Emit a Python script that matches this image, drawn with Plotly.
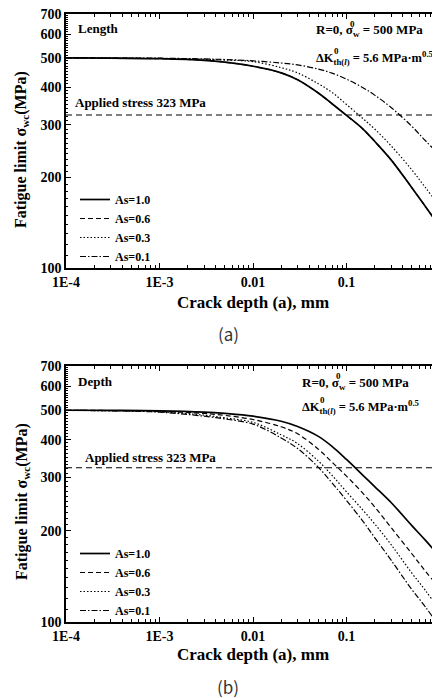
import plotly.graph_objects as go

# ---------------- data ----------------
crack_depth = [1e-4, 3e-4, 1e-3, 3e-3, 5e-3, 0.01, 0.02, 0.03, 0.05, 0.07,
               0.1, 0.15, 0.2, 0.3, 0.5, 0.7, 1.0]

# (a) Length
length_as10 = [500, 499.5, 497, 491, 484, 469, 446, 423, 382, 352, 322, 290, 264, 229, 185, 160, 137]
length_as06 = [500, 499.5, 497, 491, 484, 469, 446, 423, 382, 352, 322, 290, 264, 229, 185, 160, 137]
length_as03 = [500, 499.5, 498, 495, 492, 486, 464, 446, 410, 384, 350, 314, 290, 255, 212, 185, 160]
length_as01 = [500, 499.5, 499, 496, 494, 489, 481, 474, 459, 445, 425, 398, 376, 342, 296, 265, 237]

# (b) Depth
depth_as10 = [500, 499.5, 498, 493, 488, 478, 460, 442, 410, 380, 344, 305, 280, 248, 208, 186, 164]
depth_as06 = [500, 499, 496, 488, 481, 466, 441, 418, 372, 337, 303, 266, 240, 205, 168, 147, 129]
depth_as03 = [500, 498, 494, 482, 472, 456, 415, 388, 340, 305, 269, 234, 211, 180, 145, 127, 109]
depth_as01 = [500, 498, 493, 478, 468, 450, 405, 374, 324, 288, 252, 215, 190, 160, 128, 112, 96]

series_names = ["As=1.0", "As=0.6", "As=0.3", "As=0.1"]
applied_stress = 323

x_tickvals = [1e-4, 1e-3, 1e-2, 1e-1, 1]
x_ticktext = ["1E-4", "1E-3", "0.01", "0.1", "1"]
y_tickvals = [100, 200, 300, 400, 500, 600, 700]
y_ticktext = ["100", "200", "300", "400", "500", "600", "700"]

# ---------------- styling ----------------
# the page body has an 8px default margin, so the figure is sized to fill the rest
OFF = 8
W, H = 440 - OFF, 698 - OFF
SERIF = "Liberation Serif"
dashes = ["solid", "5px,3px", "1.5px,2px", "6px,2px,1.5px,2px"]
widths = [1.7, 1.2, 1.2, 1.2]

x_minor = [k * 10 ** e for e in range(-4, 0) for k in range(2, 10)]
y_minor = [v for v in range(110, 700, 10) if v % 100 != 0]


def px2paper(px):
    return (px - OFF) / W


def py2paper(py):
    return 1 - (py - OFF) / H


fig = go.Figure()

panels = [
    ("x", "y", "legend", [length_as10, length_as06, length_as03, length_as01]),
    ("x2", "y2", "legend2", [depth_as10, depth_as06, depth_as03, depth_as01]),
]
for xa, ya, lg, data in panels:
    for name, vals, d, w in zip(series_names, data, dashes, widths):
        fig.add_trace(go.Scatter(
            x=crack_depth, y=vals, mode="lines", name=name,
            line=dict(color="black", dash=d, width=w, shape="spline", smoothing=1.0),
            xaxis=xa, yaxis=ya, legend=lg, hoverinfo="skip"))
    fig.add_trace(go.Scatter(
        x=[crack_depth[0], crack_depth[-1]], y=[applied_stress, applied_stress],
        mode="lines", line=dict(color="black", dash="6px,4px", width=1.1),
        xaxis=xa, yaxis=ya, showlegend=False, hoverinfo="skip"))

top_dom = [py2paper(268), py2paper(14)]
bot_dom = [py2paper(622), py2paper(366)]

axis_common = dict(
    type="log", showgrid=False, zeroline=False, showline=True, linecolor="black",
    linewidth=1.5, mirror="allticks", ticks="inside", ticklen=5, tickwidth=1.2,
    tickcolor="black", automargin=False, ticklabeloverflow="allow",
    tickfont=dict(family=SERIF, size=14, color="black", weight="bold"),
)
xaxis_cfg = dict(axis_common, range=[-4, 0], domain=[px2paper(66), 1.0],
                 tickmode="array", tickvals=x_tickvals, ticktext=x_ticktext,
                 minor=dict(tickmode="array", tickvals=x_minor, ticks="inside",
                            ticklen=3, tickwidth=1, tickcolor="black", showgrid=False))
yaxis_cfg = dict(axis_common, range=[2, 2.845098],
                 tickmode="array", tickvals=y_tickvals, ticktext=y_ticktext,
                 minor=dict(tickmode="array", tickvals=y_minor, ticks="inside",
                            ticklen=2.5, tickwidth=1, tickcolor="black", showgrid=False))

legend_common = dict(xanchor="left", yanchor="top", bgcolor="rgba(0,0,0,0)",
                     font=dict(family=SERIF, size=12, color="black", weight="bold"),
                     itemwidth=30, tracegroupgap=0)

fig.update_layout(
    width=W, height=H, margin=dict(l=0, r=0, t=0, b=0, autoexpand=False),
    paper_bgcolor="white", plot_bgcolor="white",
    xaxis=dict(xaxis_cfg, anchor="y"),
    yaxis=dict(yaxis_cfg, domain=top_dom, anchor="x"),
    xaxis2=dict(xaxis_cfg, anchor="y2"),
    yaxis2=dict(yaxis_cfg, domain=bot_dom, anchor="x2"),
    legend=dict(legend_common, x=px2paper(75), y=py2paper(185)),
    legend2=dict(legend_common, x=px2paper(75), y=py2paper(539)),
    showlegend=True,
)


def ann(text, px, py, size=13, xanchor="left", angle=0, family=SERIF, bold=True, color="black"):
    fig.add_annotation(
        text=text, x=px2paper(px), y=py2paper(py), xref="paper", yref="paper",
        xanchor=xanchor, yanchor="middle", showarrow=False, textangle=angle,
        font=dict(family=family, size=size, color=color, weight="bold" if bold else "normal"))


ytitle = "Fatigue limit σ<sub>wc</sub>(MPa)"
r_text = "R=0, σ<sub>w</sub> = 500 MPa"
k_text = "ΔK<sub>th(<i>l</i>)</sub> = 5.6 MPa·m<sup>0.5</sup>"


def panel_texts(label, y0, stress_x, stress_y, rx, ry, ky):
    ann(label, 76, y0)
    ann(f"Applied stress {applied_stress} MPa", stress_x, stress_y)
    ann(r_text, rx, ry, size=13)
    ann("0", rx + 34, ry - 7, size=9)          # superscript stacked over subscript w
    ann(k_text, rx, ky, size=12.5)
    ann("0", rx + 17.5, ky - 7, size=9)        # superscript stacked over subscript th(l)


# top panel
panel_texts("Length", 28, 73, 103, 314, 31, 58)
ann(ytitle, 22, 150, size=16, xanchor="center", angle=-90)
ann("Crack depth (a), mm", 253, 302, size=17, xanchor="center")
ann("(a)", 228, 333, size=17, xanchor="center", family="Noto Sans CJK KR", bold=False, color="#333")

# bottom panel
panel_texts("Depth", 381, 83, 457, 300, 383, 407)
ann(ytitle, 22, 502, size=16, xanchor="center", angle=-90)
ann("Crack depth (a), mm", 253, 654, size=17, xanchor="center")
ann("(b)", 228, 686, size=17, xanchor="center", family="Noto Sans CJK KR", bold=False, color="#333")

fig.write_html("out.html")
